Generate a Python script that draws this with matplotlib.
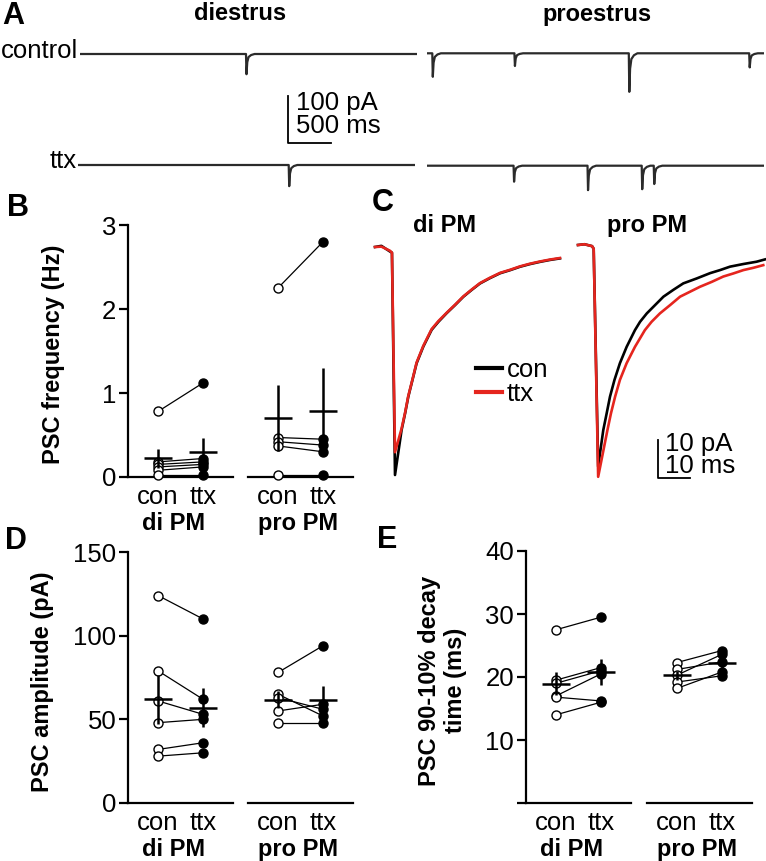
import numpy as np
import matplotlib
matplotlib.use('Agg')
import matplotlib.pyplot as plt
from matplotlib.lines import Line2D

plt.rcParams['font.family'] = ['Liberation Sans', 'DejaVu Sans']
plt.rcParams['font.size'] = 18.5

W, H = 766, 861
fig = plt.figure(figsize=(W / 100, H / 100), dpi=100)

# ---- A: raw traces (event time in s, amplitude in pA)
trace_dur = 3.92
di_con_ev_t = [1.93]
di_con_ev_a = [43]
di_ttx_ev_t = [2.45]
di_ttx_ev_a = [45]
pro_con_ev_t = [0.065, 1.02, 2.35, 3.75]
pro_con_ev_a = [50, 27, 82, 30]
pro_ttx_ev_t = [1.01, 1.87, 2.50, 2.64]
pro_ttx_ev_a = [34, 52, 50, 39]
# psc shape used for every event (offset s, fraction of peak)
ev_off = [0, 0.006, 0.015, 0.03, 0.06, 0.1]
ev_frac = [0, 1, 0.4, 0.15, 0.05, 0]

# ---- B: frequency (Hz)
di_con_freq = [0.78, 0.18, 0.15, 0.12, 0.08, 0.02]
di_ttx_freq = [1.12, 0.22, 0.18, 0.15, 0.12, 0.02]
pro_con_freq = [2.25, 0.47, 0.42, 0.37, 0.02]
pro_ttx_freq = [2.80, 0.45, 0.38, 0.30, 0.02]

# ---- C: averaged PSCs (ms, pA)
di_con_t = [0, 2, 4.7, 5.3, 6.25, 8.3, 9.4, 10.4, 11.7, 13.0, 15.1, 17.7, 19.8, 22.4, 25.0,
            27.6, 30.2, 32.8, 35.9, 39.1, 42.2, 45.3, 48.4, 51.6, 54.7, 57.8]
di_con_v = [0, 0.3, -1.2, -1.5, -60, -48.2, -43.8, -39.4, -35.0, -30.6, -26.2, -21.8, -19.7,
            -17.4, -15.3, -13.1, -11.3, -9.6, -8.2, -6.9, -6.1, -5.2, -4.5, -3.9, -3.4, -3.0]
di_ttx_t = [0, 2, 4.7, 5.3, 6.25, 8.3, 9.4, 10.4, 11.7, 13.0, 15.1, 17.7, 19.8, 22.4, 25.0,
            27.6, 30.2, 32.8, 35.9, 39.1, 42.2, 45.3, 48.4, 51.6, 54.7, 57.8]
di_ttx_v = [0, 0.1, -1.0, -1.5, -54, -47.8, -43.6, -39.2, -34.9, -30.4, -26.0, -21.6, -19.5,
            -17.3, -15.2, -13.0, -11.2, -9.5, -8.1, -6.8, -6.0, -5.1, -4.4, -3.8, -3.3, -2.9]
pro_con_t = [0, 2, 4.4, 4.9, 6.3, 7.9, 8.96, 10.0, 11.4, 13.1, 15.2, 17.8, 19.4, 21.5, 24.1,
             26.7, 29.8, 32.9, 37.1, 41.3, 44.4, 47.5, 51.7, 55.8, 58.4]
pro_con_v = [0, 0.2, -0.3, -1.0, -58.3, -48.7, -44.3, -39.9, -35.5, -31.1, -26.8, -22.4, -20.2,
             -18.0, -15.8, -13.6, -11.8, -10.1, -8.8, -7.4, -6.6, -5.7, -5.0, -4.4, -3.8]
pro_ttx_t = [0, 2, 4.4, 4.9, 6.3, 9.2, 10.3, 11.6, 13.1, 15.2, 17.8, 20.9, 23.0, 25.6, 28.8,
             31.9, 35.0, 38.1, 41.8, 45.4, 48.5, 51.7, 54.8, 57.9]
pro_ttx_v = [0, 0.2, -0.3, -1.0, -61, -48.7, -44.3, -39.9, -35.5, -31.1, -26.8, -22.4, -20.2,
             -18.0, -15.8, -13.6, -12.3, -11.0, -9.7, -8.3, -7.5, -6.6, -6.0, -5.3]

# ---- D: amplitude (pA)
di_con_amp = [124, 79, 61, 48, 32, 28]
di_ttx_amp = [110, 62, 53, 50, 36, 30]
pro_con_amp = [78, 65, 63, 55, 48]
pro_ttx_amp = [94, 52, 56, 59, 48]

# ---- E: decay time (ms)
di_con_dec = [27.5, 19.5, 19.0, 17.0, 16.8, 14.0]
di_ttx_dec = [29.5, 21.5, 21.0, 20.5, 16.2, 16.0]
pro_con_dec = [22.3, 21.2, 20.3, 19.2, 18.2]
pro_ttx_dec = [24.2, 22.4, 23.6, 20.2, 20.8]

RED = '#e5251e'
BOLD = 17


def px_axes(x0, y0, x1, y1):
    return fig.add_axes([x0 / W, 1 - y1 / H, (x1 - x0) / W, (y1 - y0) / H])


def ftext(x, y, s, **kw):
    return fig.text(x / W, 1 - y / H, s, **kw)


def build_trace(ev_t, ev_a):
    t = [0.0]
    v = [0.0]
    for et, ea in zip(ev_t, ev_a):
        for o, f in zip(ev_off, ev_frac):
            t.append(et + o)
            v.append(-ea * f)
    t.append(trace_dur)
    v.append(0.0)
    return t, v


# panel A, 86 px per s and 0.47 px per pA
def trace_axes(x0, base, top, bottom):
    ax = px_axes(x0, top, x0 + trace_dur * 86, bottom)
    ax.set_xlim(0, trace_dur)
    ax.set_ylim(-(bottom - base) / 0.47, (base - top) / 0.47)
    ax.axis('off')
    return ax


TR = dict(color='#2b2b2b', lw=1.6)
ax = trace_axes(80, 54, 44, 150)
t, v = build_trace(di_con_ev_t, di_con_ev_a)
ax.plot(t, v, **TR)
ax.plot([2.42, 2.42, 2.92], [-89, -189, -189], color='k', lw=1.3, clip_on=False)

ax = trace_axes(78, 165, 150, 200)
t, v = build_trace(di_ttx_ev_t, di_ttx_ev_a)
ax.plot(t, v, **TR)

ax = trace_axes(426.7, 53.3, 44, 110)
t, v = build_trace(pro_con_ev_t, pro_con_ev_a)
ax.plot(t, v, **TR)

ax = trace_axes(426.7, 165.7, 150, 200)
t, v = build_trace(pro_ttx_ev_t, pro_ttx_ev_a)
ax.plot(t, v, **TR)

ftext(2, 16, 'A', fontsize=22, fontweight='bold', va='center')
ftext(240, 14, 'diestrus', fontsize=BOLD, fontweight='bold', ha='center', va='center')
ftext(597, 14, 'proestrus', fontsize=BOLD, fontweight='bold', ha='center', va='center')
ftext(78, 51, 'control', ha='right', va='center')
ftext(77, 161, 'ttx', ha='right', va='center')
ftext(296, 103, '100 pA', va='center')
ftext(296, 126, '500 ms', va='center')

# panel C, 3.2 px per ms and 3.8 px per pA
def psc_axes(x0, base):
    ax = px_axes(x0 - 4, base - 10, x0 + 190, base + 240)
    ax.set_xlim(-4 / 3.2, 190 / 3.2)
    ax.set_ylim(-240 / 3.8, 10 / 3.8)
    ax.axis('off')
    return ax


ax = psc_axes(375, 247)
ax.plot(di_con_t, di_con_v, color='k', lw=1.9)
ax.plot(di_ttx_t, di_ttx_v, color=RED, lw=1.9)
ax.legend(handles=[Line2D([], [], color='k', lw=3), Line2D([], [], color=RED, lw=3)],
          labels=['con', 'ttx'], frameon=False, loc='upper left',
          bbox_to_anchor=((476 - 375 + 4) / 194, 1 - (358 - 237) / 250),
          handlelength=1.0, handletextpad=0.2, labelspacing=0.0, borderpad=0, borderaxespad=0)

ax = psc_axes(578, 245)
ax.plot(pro_con_t, pro_con_v, color='k', lw=1.9)
ax.plot(pro_ttx_t, pro_ttx_v, color=RED, lw=1.9)
ax.plot([25, 25, 35], [-51.3, -61.3, -61.3], color='k', lw=1.3, clip_on=False)

ftext(372, 203, 'C', fontsize=22, fontweight='bold', va='center')
ftext(445, 225, 'di PM', fontsize=BOLD, fontweight='bold', ha='center', va='center')
ftext(647, 225, 'pro PM', fontsize=BOLD, fontweight='bold', ha='center', va='center')
ftext(665, 444, '10 pA', va='center')
ftext(665, 466, '10 ms', va='center')


# paired scatter panels
def paired(ax, con, ttx, group, left):
    for c, tt in zip(con, ttx):
        ax.plot([0, 1], [c, tt], color='k', lw=0.9, zorder=2)
    ax.plot(np.zeros(len(con)), con, 'o', ms=6.5, mfc='white', mec='k', mew=1.0,
            clip_on=False, zorder=3)
    ax.plot(np.ones(len(ttx)), ttx, 'o', ms=6.5, mfc='k', mec='k', mew=1.0,
            clip_on=False, zorder=3)
    for x, vals in [(0, con), (1, ttx)]:
        vals = np.array(vals)
        m = vals.mean()
        sem = vals.std(ddof=1) / np.sqrt(len(vals))
        ax.errorbar([x], [m], yerr=[sem], xerr=[0.31], fmt='none', ecolor='k',
                    elinewidth=1.8, capsize=0, zorder=4, clip_on=False)
    ax.set_xlim(-0.667, 1.667)
    ax.set_xticks([0, 1])
    ax.set_xticklabels(['con', 'ttx'])
    ax.tick_params(axis='x', length=0, pad=6)
    ax.set_xlabel(group, fontweight='bold', fontsize=BOLD)
    ax.xaxis.set_label_coords(0.43 if left else 0.48, -35 / ax.bbox.height)
    for s in ['top', 'right']:
        ax.spines[s].set_visible(False)
    ax.spines['bottom'].set_linewidth(1.6)
    if left:
        ax.spines['left'].set_linewidth(1.6)
        ax.tick_params(axis='y', length=6.5, width=1.6, pad=2)
    else:
        ax.spines['left'].set_visible(False)
        ax.set_yticks([])


def panel(y0, y1, xl, xr, ylim, yticks, yticklabels, data, ylabel, ylab_x):
    axl = px_axes(xl, y0, xl + 105, y1)
    axr = px_axes(xr, y0, xr + 105, y1)
    for a in (axl, axr):
        a.set_ylim(*ylim)
    paired(axl, data[0], data[1], 'di PM', True)
    paired(axr, data[2], data[3], 'pro PM', False)
    axl.set_yticks(yticks)
    axl.set_yticklabels(yticklabels)
    axl.set_ylabel(ylabel, fontweight='bold', fontsize=BOLD)
    axl.yaxis.set_label_coords(ylab_x, 0.485)
    return axl, axr


panel(225, 477, 128, 248, (0, 3), [0, 1, 2, 3], ['0', '1', '2', '3'],
      [di_con_freq, di_ttx_freq, pro_con_freq, pro_ttx_freq],
      'PSC frequency (Hz)', -0.60)
ftext(7, 208, 'B', fontsize=22, fontweight='bold', va='center')

panel(552, 803, 128, 248, (0, 150), [0, 50, 100, 150], ['0', '50', '100', '150'],
      [di_con_amp, di_ttx_amp, pro_con_amp, pro_ttx_amp],
      'PSC amplitude (pA)', -0.70)
ftext(5, 541, 'D', fontsize=22, fontweight='bold', va='center')

panel(551, 803, 526, 647, (0, 40), [0, 10, 20, 30, 40], ['', '10', '20', '30', '40'],
      [di_con_dec, di_ttx_dec, pro_con_dec, pro_ttx_dec],
      'PSC 90-10% decay\ntime (ms)', -0.56)
ftext(377, 540, 'E', fontsize=22, fontweight='bold', va='center')

fig.savefig('out.png', dpi=100)
